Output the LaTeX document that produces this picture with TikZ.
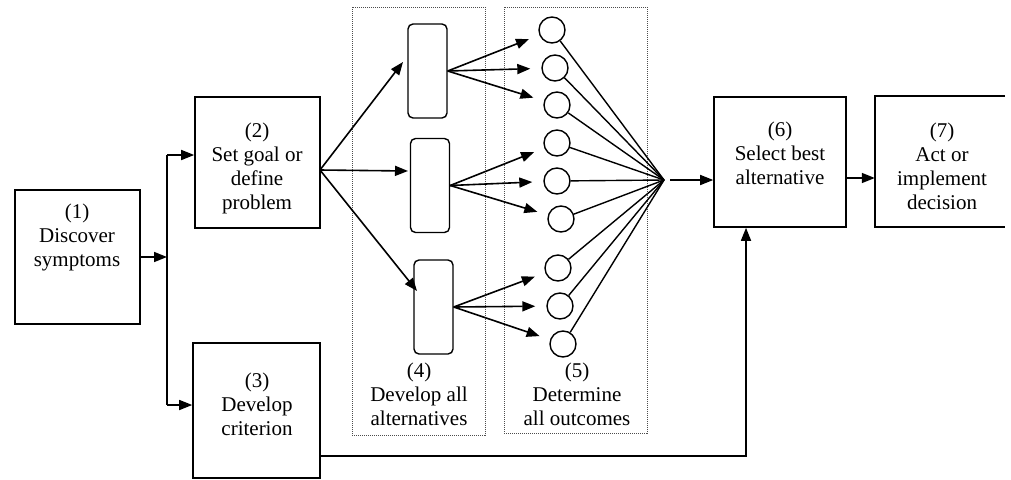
\documentclass[tikz,border=0pt]{standalone}
\usepackage{fontspec}
\setmainfont{Liberation Serif}
\usetikzlibrary{arrows.meta,calc}
\begin{document}
\begin{tikzpicture}[x=1pt,y=-1pt,
  box/.style={draw,line width=1.6pt,inner sep=0pt,rectangle},
  alt/.style={draw,line width=1.4pt,rounded corners=5pt,inner sep=0pt,minimum width=39pt,minimum height=94pt},
  outc/.style={draw,circle,line width=1.4pt,minimum size=26pt,inner sep=0pt},
  grp/.style={draw=black!70,densely dotted,line width=1pt},
  txt/.style={align=center,font=\fontsize{21}{24}\selectfont,inner sep=0pt},
  arr/.style={line width=1.6pt,-{Triangle[length=13pt,width=10pt]}},
  ln/.style={line width=1.4pt}]
\useasboundingbox (0,0) rectangle (1011,479);
% boxes
\node[box,minimum width=125pt,minimum height=134pt] (b1) at (77.5,257) {};
\node[box,minimum width=125pt,minimum height=131pt] (b2) at (257.5,162.5) {};
\node[box,minimum width=127pt,minimum height=135pt] (b3) at (256.5,410.5) {};
\node[box,minimum width=132pt,minimum height=130pt] (b6) at (780,162) {};
\node[inner sep=0pt,minimum width=130pt,minimum height=131pt] (b7) at (940,161.5) {};
\draw[line width=1.6pt] (b7.north east) -- (b7.north west) -- (b7.south west) -- (b7.south east);
% texts
\node[txt] (t1) at (77,237) {(1)\\Discover\\symptoms};
\node[txt] (t2) at (257,168) {(2)\\Set goal or\\define\\problem};
\node[txt] (t3) at (257,404) {(3)\\Develop\\criterion};
\node[txt] (t6) at (780,153) {(6)\\Select best\\alternative};
\node[txt] (t7) at (942,166) {(7)\\Act or\\implement\\decision};
% groups
\node[grp,inner sep=0pt,minimum width=133pt,minimum height=428pt] (g4) at (418.5,221) {};
\node[grp,inner sep=0pt,minimum width=143pt,minimum height=426pt] (g5) at (575.5,220) {};
\node[txt] (t4) at (419,394) {(4)\\Develop all\\alternatives};
\node[txt] (t5) at (577,394) {(5)\\Determine\\all outcomes};
% alternatives
\node[alt] (A) at (427.5,71) {};
\node[alt] (B) at (430,185.5) {};
\node[alt] (C) at (433.5,307) {};
% outcomes
\node[outc] (c1) at (552,30) {};
\node[outc] (c2) at (555,68) {};
\node[outc] (c3) at (557,105) {};
\node[outc] (c4) at (557,143) {};
\node[outc] (c5) at (557,181) {};
\node[outc] (c6) at (561,219) {};
\node[outc] (c7) at (558,268) {};
\node[outc] (c8) at (560,306) {};
\node[outc] (c9) at (563,344) {};
\coordinate (cv) at (664,180);
% split line
\coordinate (sp) at (167,257);
\coordinate (sp2) at (167,155);
\coordinate (sp3) at (167,405);
\draw[arr] (b1.east) -- (sp);
\draw[ln] (sp2) -- (sp3);
\draw[arr] (sp2) -- (sp2 -| b2.west);
\draw[arr] (sp3) -- (sp3 -| b3.west);
% box2 to alternatives
\coordinate (o2) at (320,170);
\coordinate (ea) at (403,62);
\coordinate (eb) at (408,171);
\coordinate (ec) at (417,291);
\draw[arr] (o2) -- (ea);
\draw[arr] (o2) -- (eb);
\draw[arr] (o2) -- (ec);
% alternatives to outcomes
\foreach \s/\a/\b/\c in {A/c1/c2/c3,B/c4/c5/c6,C/c7/c8/c9}{
  \draw[arr,shorten >=11pt] (\s.east) -- (\a);
  \draw[arr,shorten >=11pt] (\s.east) -- (\b);
  \draw[arr,shorten >=11pt] (\s.east) -- (\c);
}
% outcomes converge
\foreach \c in {c1,c2,c3,c4,c5,c6,c7,c8,c9}{
  \draw[ln] (\c) -- (cv);
}
\draw[arr,shorten <=6pt] (cv) -- (cv -| b6.west);
\draw[arr] ([yshift=-16pt]b6.east) -- ([yshift=-16pt]b6.east -| b7.west);
\coordinate (r3) at (320,456);
\draw[arr] (r3) -| ([xshift=-34pt]b6.south);
\end{tikzpicture}
\end{document}
